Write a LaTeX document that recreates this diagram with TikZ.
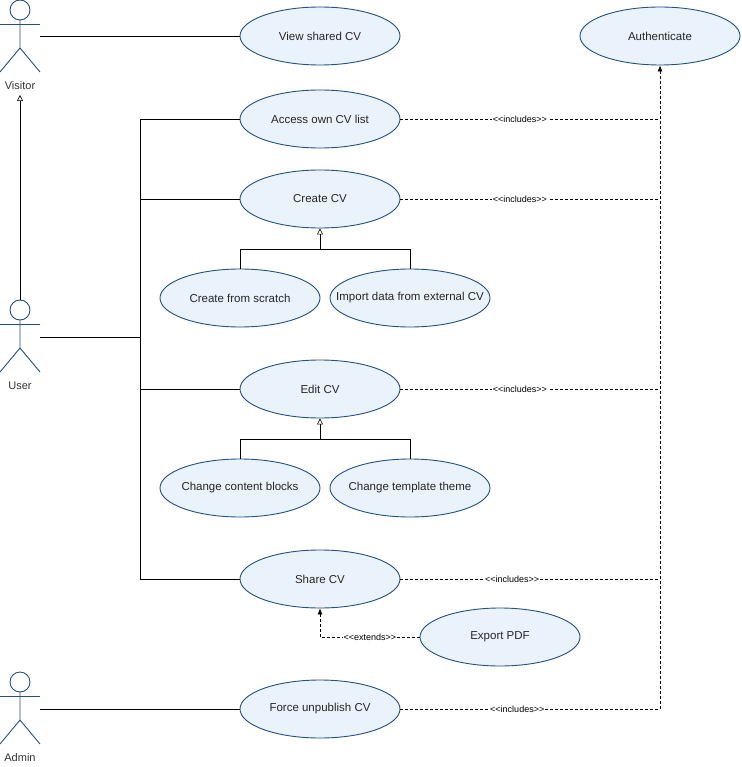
\documentclass[tikz,border=0pt]{standalone}
\usepackage{fontspec}
\setmainfont{Liberation Sans}
\usetikzlibrary{arrows.meta,shapes.geometric}
\definecolor{uf}{HTML}{EAF3FC}
\definecolor{us}{HTML}{23507E}
\begin{document}
\begin{tikzpicture}[x=1pt,y=-1pt,
 uc/.style={ellipse,draw=us,fill=uf,line width=0.9pt,minimum width=160pt,minimum height=58pt,inner xsep=-24pt,inner ysep=0pt,font=\fontsize{11.5}{13}\selectfont,text=black!85},
 lbl/.style={font=\fontsize{9}{10}\selectfont,fill=white,inner sep=1pt},
 inc/.style={densely dashed,line width=0.6pt},
 gen/.style={-{Triangle[open,length=6pt,width=6pt]},line width=0.6pt},
 act/.style={draw=us,line width=0.9pt},
 alb/.style={font=\fontsize{11}{12}\selectfont,text=black!80}]
\useasboundingbox (0,0) rectangle (741,767);
\def\actor#1#2{%
 \draw[act] (20,#2+10) circle (10);
 \draw[act] (0,#2+24) -- (40,#2+24);
 \draw[act] (20,#2+20) -- (20,#2+48) -- (0,#2+72) (20,#2+48) -- (40,#2+72);
}
\actor{v}{0}\actor{u}{300}\actor{a}{672}
\node[alb] (vl) at (20,86) {Visitor};
\node[alb] (ul) at (20,386) {User};
\node[alb] (al) at (20,758) {Admin};
\coordinate (vis) at (40,36);
\coordinate (usr) at (40,337);
\coordinate (adm) at (40,709);
\coordinate (usrtop) at (20,300);
\coordinate (vbot) at (20,95);
\node[uc] (view) at (320,36) {View shared CV};
\node[uc] (auth) at (660,36) {Authenticate};
\node[uc] (acc) at (320,119) {Access own CV list};
\node[uc] (cre) at (320,199) {Create CV};
\node[uc] (scr) at (240,298) {Create from scratch};
\node[uc] (imp) at (410,298) {Import data from external CV};
\node[uc] (edit) at (320,389) {Edit CV};
\node[uc] (cb) at (240,488) {Change content blocks};
\node[uc] (tt) at (410,488) {Change template theme};
\node[uc] (share) at (320,579) {Share CV};
\node[uc] (pdf) at (500,637) {Export PDF};
\node[uc] (force) at (320,709) {Force unpublish CV};
\draw[line width=0.6pt] (vis) -- (view.west);
\draw[line width=0.6pt] (adm) -- (force.west);
\draw[gen] (usrtop) -- (vbot);
\draw[line width=0.6pt] (usr) -- (140,337);
\draw[line width=0.6pt] (acc.west) -- (140,119) -- (140,579) -- (share.west);
\draw[line width=0.6pt] (cre.west) -- (140,199);
\draw[line width=0.6pt] (edit.west) -- (140,389);
\draw[line width=0.6pt] (scr.north) -- (240,249) -- (410,249) -- (imp.north);
\draw[gen] (320,249) -- (cre.south);
\draw[line width=0.6pt] (cb.north) -- (240,439) -- (410,439) -- (tt.north);
\draw[gen] (320,439) -- (edit.south);
\draw[inc,-{Latex[length=6pt,width=5pt]}] (660,709) -- (auth.south);
\foreach \n/\p in {acc/0.46,cre/0.46,edit/0.46,share/0.43,force/0.45}{
 \draw[inc] (\n.east) -- (auth.south |- \n.east) node[lbl,pos=\p] {{<}{<}includes{>}{>}};
}
\draw[inc,-{Latex[length=6pt,width=5pt]}] (pdf.west) -- (320,637) node[lbl,pos=0.5] {{<}{<}extends{>}{>}} -- (share.south);
\end{tikzpicture}
\end{document}
